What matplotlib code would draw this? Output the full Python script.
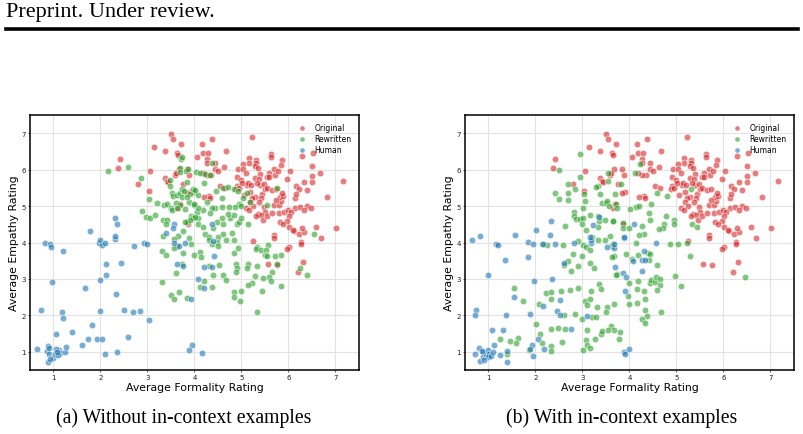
import numpy as np
import matplotlib
matplotlib.use("Agg")
import matplotlib.pyplot as plt
from matplotlib.lines import Line2D

# --- data (formality, empathy) ---
# Original ratings are the same in both panels
original_pts = [
    (2.42, 6.29), (2.37, 6.04), (2.80, 5.61), (3.05, 5.95), (3.04, 5.42), (3.14, 6.63), (3.51, 6.98),
    (3.55, 6.84), (3.38, 6.50), (3.62, 6.47), (3.65, 6.41), (3.71, 6.70), (3.66, 6.03), (3.38, 5.77),
    (3.41, 5.69), (3.44, 5.66), (3.58, 5.84), (3.61, 5.90), (3.65, 4.96), (3.76, 5.61),
    (5.22, 6.89), (4.38, 6.84), (4.16, 6.71), (4.67, 6.51), (4.19, 6.47), (4.28, 6.47), (4.06, 6.34),
    (4.26, 6.29), (4.26, 6.17), (4.43, 6.17), (4.44, 6.01), (4.50, 5.95), (4.62, 6.07), (4.36, 5.86),
    (4.26, 5.86), (4.18, 5.92), (3.84, 6.01), (3.90, 5.38), (4.55, 5.54), (4.65, 5.49), (4.31, 5.28),
    (4.20, 5.25), (4.34, 5.21), (3.70, 5.06),
    (5.15, 6.33), (5.30, 6.26), (5.31, 6.18), (5.17, 6.17), (5.04, 6.16), (4.93, 6.01), (5.03, 6.01),
    (5.09, 5.92), (5.28, 6.10), (5.35, 6.04), (5.40, 5.88), (5.62, 6.44), (5.62, 6.35), (5.86, 6.26),
    (5.84, 6.13), (5.70, 6.01), (5.59, 5.92), (5.55, 5.81), (5.59, 5.79), (5.72, 5.86), (5.77, 5.95),
    (6.04, 5.95), (5.96, 5.74), (6.28, 6.37), (6.53, 6.46), (6.50, 6.11), (6.67, 5.92), (6.51, 5.83),
    (6.50, 5.66), (6.34, 5.66), (6.40, 5.45), (6.17, 5.56), (6.22, 5.47), (6.13, 5.22), (6.15, 5.33),
    (6.82, 5.24), (7.15, 5.68),
    (4.91, 5.81), (4.99, 5.71), (4.90, 5.56), (4.89, 5.46), (4.94, 5.49), (5.11, 5.57), (5.13, 5.63),
    (5.28, 5.77), (5.37, 5.75), (5.18, 5.40), (5.40, 5.57), (5.44, 5.34), (5.49, 5.47), (5.47, 5.60),
    (5.55, 5.49), (5.65, 5.43), (5.74, 5.47), (5.29, 5.26), (5.42, 5.22), (5.48, 4.97), (5.37, 5.10),
    (5.22, 5.22), (5.18, 5.12), (5.25, 5.01), (5.09, 4.96), (5.17, 4.90), (5.35, 4.79), (5.50, 4.83),
    (5.41, 4.76), (5.30, 4.73), (5.45, 4.63), (5.54, 4.72), (5.65, 4.81), (5.80, 4.81), (5.91, 4.85),
    (5.69, 5.04), (5.79, 5.04), (5.84, 5.15), (5.82, 5.25), (5.89, 5.29), (5.86, 5.37), (5.74, 5.16),
    (6.13, 4.95), (6.24, 4.98), (6.40, 5.01), (6.47, 4.95), (6.33, 4.90), (5.99, 4.90), (6.06, 4.83),
    (6.01, 4.74), (5.97, 4.58), (5.81, 4.55), (5.88, 4.51), (6.02, 4.42), (6.11, 4.31), (6.09, 4.35),
    (6.22, 4.24), (6.33, 4.29), (6.28, 4.40), (6.58, 4.43), (7.02, 4.40), (6.70, 4.11), (6.26, 4.01),
    (5.70, 4.20), (6.01, 3.87), (5.01, 5.64), (5.06, 5.31), (5.21, 5.57), (5.33, 5.62), (3.89, 5.86),
    (3.84, 5.36), (5.25, 4.04), (6.27, 3.95), (5.97, 3.81), (5.57, 3.42), (5.76, 3.38), (6.30, 3.47),
    (6.21, 3.19), (5.69, 4.11), (3.87, 4.52),
]

rewritten_a = [
    (2.15, 5.97), (2.58, 6.06), (2.86, 5.78), (3.04, 5.19), (3.20, 5.09), (2.96, 4.69), (3.06, 4.68),
    (3.16, 4.75), (2.88, 4.86), (3.35, 5.03), (3.33, 4.63), (3.41, 4.63), (3.39, 4.52), (3.32, 4.18),
    (3.64, 4.18), (3.41, 5.05), (3.50, 4.96), (3.53, 4.89), (3.47, 5.55), (3.52, 5.35), (3.55, 5.28),
    (3.62, 5.30), (3.70, 5.35), (3.73, 5.26), (3.60, 5.09), (3.70, 5.03), (3.62, 4.94), (3.80, 4.92),
    (3.74, 5.47), (3.84, 5.65), (3.99, 5.39), (3.89, 5.12), (4.00, 5.03), (4.07, 5.30), (3.93, 4.73),
    (3.96, 4.66), (3.84, 4.55), (4.07, 4.66), (4.05, 4.84), (3.75, 4.31), (3.89, 4.11), (3.93, 3.95),
    (3.70, 6.04), (3.71, 6.28), (3.73, 6.36), (3.70, 5.93), (3.48, 5.72), (4.04, 5.93), (3.82, 5.97),
    (3.87, 6.01), (4.12, 5.90), (4.23, 5.88), (4.33, 5.85), (4.37, 6.19), (3.78, 5.41), (3.91, 5.32),
    (3.96, 5.47), (3.84, 5.26), (4.01, 5.44), (4.20, 5.62), (4.46, 5.41), (4.58, 5.21), (4.61, 5.49),
    (4.72, 5.53), (4.84, 5.47), (4.92, 5.42), (5.04, 5.21), (5.18, 5.12), (5.11, 5.35), (4.95, 5.06),
    (4.86, 4.98), (4.99, 5.00), (4.74, 4.98), (4.58, 4.98), (4.44, 4.94), (4.37, 4.96), (4.26, 5.12),
    (4.33, 4.80), (4.18, 4.89), (4.08, 4.94), (3.98, 5.07), (4.01, 4.71), (3.91, 4.61), (3.80, 4.57),
    (4.08, 4.52), (4.19, 4.43), (4.40, 4.41), (4.47, 4.57), (4.58, 4.66), (4.61, 4.52), (4.76, 4.66),
    (4.90, 4.50), (4.95, 4.55), (5.14, 4.52), (5.00, 4.66), (4.83, 4.75), (4.72, 4.78), (4.23, 4.22),
    (4.30, 4.16), (4.51, 4.16), (4.61, 4.22), (4.79, 4.25), (4.37, 3.97), (5.34, 3.88), (5.57, 3.93),
    (5.55, 5.03), (5.76, 5.49), (6.54, 4.23),
    (4.30, 4.06), (4.47, 4.02), (4.67, 4.06), (4.84, 4.06), (4.51, 3.91), (4.93, 3.85), (3.98, 3.65),
    (4.11, 3.73), (4.13, 3.61), (4.30, 3.36), (4.52, 3.38), (4.83, 3.70), (4.89, 3.40), (4.91, 3.30),
    (4.88, 3.18), (5.13, 3.40), (5.11, 3.30), (5.32, 3.35), (5.30, 3.81), (5.41, 3.79), (5.53, 3.79),
    (5.50, 3.67), (5.55, 3.63), (5.71, 3.63), (5.84, 3.65), (5.64, 3.19), (5.59, 3.06), (5.63, 2.94),
    (5.46, 3.03), (5.29, 3.09), (5.22, 2.89), (5.13, 2.83), (5.00, 2.67), (4.83, 2.65), (4.85, 2.51),
    (4.97, 2.39), (5.43, 2.66), (5.85, 2.81), (5.34, 2.08), (4.40, 3.10), (4.61, 3.12), (4.67, 2.97),
    (4.20, 2.94), (4.11, 2.78), (4.38, 2.78), (3.85, 2.48), (6.24, 3.30), (6.40, 3.10), (5.75, 3.42),
    (3.30, 3.76), (3.39, 3.65), (3.62, 3.91), (3.57, 3.85), (3.75, 3.70), (3.60, 3.15), (3.30, 2.92),
    (3.50, 2.57), (3.57, 2.44), (3.66, 2.63), (3.57, 4.09), (3.73, 3.42),
]

human_a = [
    (0.82, 4.00), (0.93, 3.95), (0.94, 3.88), (1.21, 3.76), (0.96, 2.92), (0.74, 2.14), (1.19, 2.08),
    (1.21, 1.93), (1.05, 1.50), (1.39, 1.53), (0.65, 1.09), (0.86, 1.03), (0.88, 1.16), (0.91, 1.11),
    (0.91, 0.94), (0.89, 0.72), (1.00, 0.84), (1.04, 0.93), (1.11, 1.06), (1.06, 1.09), (1.13, 0.98),
    (1.09, 0.91), (1.25, 1.00), (1.26, 1.12), (1.07, 1.00), (0.93, 0.80), (1.61, 1.20), (1.73, 1.35),
    (1.82, 1.73), (1.92, 1.36), (2.03, 1.35), (2.10, 0.93), (2.35, 1.00), (2.58, 1.40), (2.00, 2.12),
    (2.00, 2.97), (1.66, 2.76), (2.12, 3.42), (2.12, 3.12), (2.33, 2.58), (2.50, 2.14), (2.70, 2.08),
    (2.84, 2.12), (3.04, 1.87), (2.43, 3.45), (1.96, 4.00), (2.00, 4.06), (2.04, 3.93), (2.09, 3.98),
    (2.31, 4.09), (2.72, 3.91), (2.93, 4.00), (2.99, 3.95), (3.57, 4.00), (3.66, 3.91), (3.79, 4.00),
    (3.62, 3.42), (3.75, 3.36), (3.92, 2.46), (4.07, 2.99), (3.94, 1.20), (3.89, 1.04), (1.77, 4.32),
    (2.31, 4.68), (2.35, 4.52), (2.31, 4.17), (3.39, 4.25), (3.57, 4.50), (3.55, 4.39), (4.40, 4.04),
    (4.42, 3.63), (4.20, 3.34), (4.38, 3.33), (4.20, 2.74), (4.16, 0.96), (4.37, 4.51),
]

rewritten_b = [
    (2.49, 5.98), (2.95, 6.43), (2.94, 5.79), (2.70, 5.61), (2.84, 5.47), (2.42, 5.36), (2.49, 5.20),
    (2.70, 5.36), (2.70, 5.17), (3.04, 5.33), (3.05, 5.13), (3.01, 4.96), (2.81, 4.85), (2.82, 4.74),
    (2.86, 4.64), (2.95, 4.64), (3.01, 4.67), (2.98, 4.52), (3.07, 4.35), (3.16, 4.76), (3.32, 4.72),
    (3.35, 4.58), (3.32, 4.42), (3.48, 4.63), (3.64, 4.58), (2.62, 4.44), (3.32, 5.56), (3.28, 5.53),
    (3.38, 5.33), (3.41, 5.08), (3.50, 5.08), (3.53, 5.13), (3.57, 5.01), (3.69, 5.33), (3.71, 5.06),
    (3.74, 4.95), (3.55, 5.92), (3.55, 5.69), (3.58, 4.17), (3.21, 4.14), (2.91, 4.03), (2.59, 3.94),
    (2.24, 3.94), (2.13, 3.96), (3.01, 3.94), (3.34, 4.08), (3.48, 4.08),
    (4.23, 6.15), (4.11, 5.90), (3.81, 5.60), (4.14, 4.97), (4.20, 5.01), (4.01, 4.92), (4.46, 5.05),
    (4.58, 5.36), (4.79, 5.28), (5.30, 5.47), (4.41, 4.81), (4.44, 4.63), (4.77, 4.72), (4.94, 4.61),
    (4.94, 4.52), (4.73, 4.51), (4.72, 4.40), (4.62, 4.38), (3.86, 4.53), (3.86, 4.40), (3.65, 4.60),
    (4.26, 4.46), (4.30, 4.23), (4.21, 4.21), (4.00, 4.40), (4.14, 3.99), (4.87, 3.96), (5.23, 3.99),
    (5.33, 4.52), (5.44, 4.42),
    (5.04, 3.95), (5.29, 3.62), (3.65, 3.97), (3.66, 3.63), (3.93, 3.68), (4.06, 3.56), (4.18, 3.65),
    (4.39, 3.70), (4.44, 3.68), (4.41, 3.52), (4.59, 3.38), (3.73, 3.13), (4.00, 2.89), (4.19, 2.94),
    (4.43, 2.89), (4.46, 2.98), (4.55, 2.92), (4.57, 3.04), (4.65, 3.01), (4.64, 2.83), (4.59, 2.69),
    (4.96, 3.08), (5.10, 2.80), (3.96, 2.53), (4.16, 2.72), (4.30, 2.67), (4.32, 2.44), (4.00, 2.31),
    (4.16, 2.33), (3.66, 2.31), (4.32, 2.16), (4.67, 2.08), (4.38, 1.99), (4.26, 1.91), (4.32, 1.79),
    (3.61, 1.70), (3.68, 1.59), (3.79, 1.53), (3.77, 1.35), (6.45, 3.04),
    (3.07, 3.88), (3.16, 3.79), (3.62, 3.91), (2.80, 3.68), (3.00, 3.63), (3.16, 3.45), (3.25, 3.31),
    (2.70, 3.49), (2.61, 3.38), (2.75, 3.21), (2.91, 3.36), (3.71, 3.12), (3.62, 3.61), (1.55, 2.76),
    (1.74, 2.39), (2.08, 2.31), (2.22, 2.62), (2.33, 2.63), (2.33, 2.44), (2.54, 2.67), (2.74, 2.69),
    (2.91, 2.74), (3.35, 2.85), (3.40, 2.72), (3.18, 2.67), (3.05, 2.39), (3.09, 2.28), (3.16, 2.46),
    (3.30, 2.22), (3.20, 1.96), (3.28, 1.96), (3.00, 1.90), (3.53, 2.23), (3.50, 2.08), (2.01, 1.76),
    (2.09, 1.48), (1.24, 1.35), (1.45, 1.30), (1.63, 1.38), (1.58, 1.23), (1.40, 0.93), (1.87, 1.04),
    (2.13, 1.25), (2.33, 1.15), (2.33, 1.02), (2.33, 1.62), (2.47, 1.64), (2.63, 1.62), (2.56, 1.27),
    (3.07, 1.32), (3.09, 1.18), (3.16, 1.11), (3.01, 1.06), (3.27, 1.36), (3.09, 1.61), (3.40, 1.50),
    (3.41, 1.57), (3.54, 1.59), (2.61, 2.01), (2.84, 2.05),
]

human_b = [
    (0.64, 4.06), (1.17, 3.97), (1.21, 3.93), (1.35, 3.52), (0.99, 3.10), (0.73, 2.14), (0.72, 2.01),
    (1.07, 1.59), (1.30, 1.61), (1.37, 2.01), (1.55, 2.50), (1.83, 4.02), (1.95, 3.97), (2.15, 3.95),
    (2.41, 3.95), (2.82, 3.98), (1.83, 3.59), (1.97, 2.94), (2.35, 2.99), (1.88, 2.03), (2.15, 2.25),
    (2.45, 2.12), (2.52, 2.00), (2.52, 2.42), (2.76, 1.62), (2.06, 1.34), (1.92, 1.18), (1.88, 1.09),
    (1.95, 0.89), (2.18, 1.09), (1.39, 1.03), (1.40, 0.72), (1.25, 0.91), (1.11, 1.20), (0.80, 1.11),
    (0.71, 0.93), (0.82, 0.74), (0.89, 1.00), (0.89, 0.86), (0.94, 0.95), (0.99, 1.06), (1.01, 0.95),
    (1.00, 0.86), (0.91, 0.77), (1.06, 0.89), (1.09, 1.00), (0.86, 1.02), (3.09, 1.98), (3.19, 3.98),
    (3.18, 4.06), (2.60, 3.43), (3.70, 3.33), (3.68, 3.85), (3.52, 3.88), (3.67, 3.95), (0.82, 4.19),
    (1.56, 4.21), (2.02, 4.34), (2.33, 4.58), (2.31, 4.20), (3.23, 4.49), (3.35, 4.69), (3.16, 4.15),
    (3.88, 4.11), (4.57, 4.00), (4.30, 3.77), (4.27, 3.53), (4.32, 3.52), (4.07, 3.49), (3.86, 3.17),
    (3.93, 3.06), (4.27, 3.21), (3.91, 2.66), (3.89, 1.00), (3.91, 0.94), (4.00, 1.07), (4.09, 4.52),
    (3.89, 4.14),
]

series_names = ["Original", "Rewritten", "Human"]
series_colors = ["#d62728", "#2ca02c", "#1f77b4"]
ticks = [1, 2, 3, 4, 5, 6, 7]

fig = plt.figure(figsize=(8.04, 4.35), dpi=100)

# page header like the paper
fig.text(0.008, 0.992, "Preprint. Under review.", family="Liberation Serif",
         fontsize=16, va="top", ha="left")
fig.add_artist(Line2D([0.008, 0.993], [1 - 29.5 / 435] * 2, lw=2.6, color="black"))


def draw_panel(ax, groups):
    for name, pts, c in zip(series_names, groups, series_colors):
        arr = np.array(pts)
        ax.scatter(arr[:, 0], arr[:, 1], s=22, color=c, alpha=0.6,
                   edgecolors="white", linewidths=0.6, label=name, zorder=3)
    ax.set_xlim(0.5, 7.5)
    ax.set_ylim(0.5, 7.5)
    ax.set_xticks(ticks)
    ax.set_yticks(ticks)
    ax.grid(True, color="#e3e3e3", linewidth=0.8, zorder=0)
    ax.tick_params(length=1.5, width=0.5, labelsize=5, pad=1.5, colors="#222222")
    for sp in ax.spines.values():
        sp.set_color("black")
        sp.set_linewidth(1.1)
    ax.set_xlabel("Average Formality Rating", fontsize=7.8, labelpad=1)
    ax.set_ylabel("Average Empathy Rating", fontsize=7.8, labelpad=2)
    ax.legend(loc="upper right", frameon=False, fontsize=5.5, handletextpad=0.6,
              labelspacing=0.3, borderaxespad=0.6, markerscale=0.8)


ax_a = fig.add_axes([30 / 804, 1 - 371 / 435, 329 / 804, 255 / 435])
draw_panel(ax_a, [original_pts, rewritten_a, human_a])

ax_b = fig.add_axes([465 / 804, 1 - 371 / 435, 329 / 804, 255 / 435])
draw_panel(ax_b, [original_pts, rewritten_b, human_b])

fig.text(184 / 804, 1 - 418 / 435, "(a) Without in-context examples", family="Liberation Serif",
         fontsize=14.2, ha="center", va="center")
fig.text(622 / 804, 1 - 418 / 435, "(b) With in-context examples", family="Liberation Serif",
         fontsize=14.2, ha="center", va="center")

fig.savefig("out.png", dpi=100)
